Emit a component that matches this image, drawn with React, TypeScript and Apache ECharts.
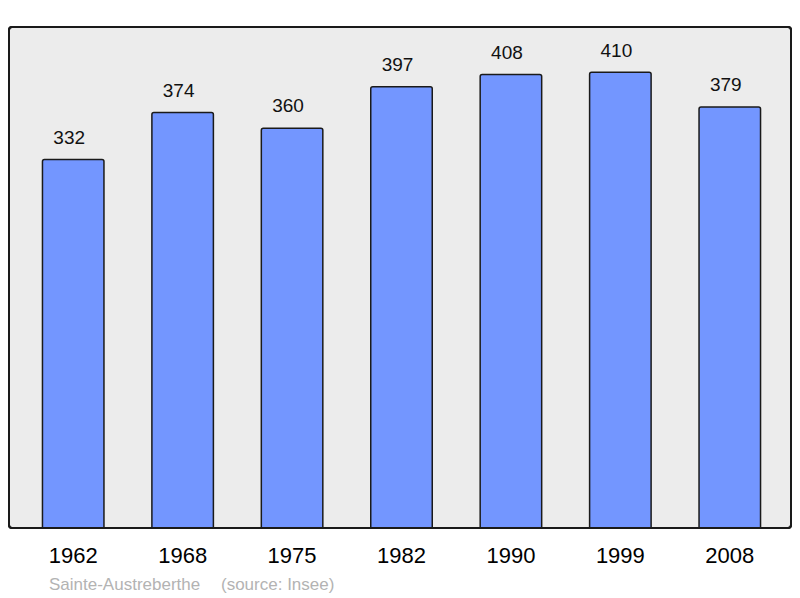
import { useEffect, useRef } from "react";
import * as echarts from "echarts";

const years = ["1962", "1968", "1975", "1982", "1990", "1999", "2008"];
const population = [332, 374, 360, 397, 408, 410, 379];
const commune = "Sainte-Austreberthe";
const source = "(source: Insee)";

const FONT = "'Liberation Sans', Arial, sans-serif";

export default function App() {
  const ref = useRef<HTMLDivElement>(null);

  useEffect(() => {
    if (!ref.current) return;
    const chart = echarts.init(ref.current, undefined, { renderer: "svg" });
    chart.setOption({
      animation: false,
      backgroundColor: "#ffffff",
      textStyle: { fontFamily: FONT },
      grid: { left: 18.5, top: 27, width: 766, height: 502 },
      xAxis: {
        type: "category",
        data: years,
        axisLine: { show: false },
        axisTick: { show: false },
        axisLabel: { color: "#000", fontSize: 22, margin: 15, fontFamily: FONT },
      },
      yAxis: {
        type: "value",
        min: 0,
        max: 450,
        show: false,
        splitLine: { show: false },
      },
      graphic: [
        {
          type: "rect",
          z: -10,
          shape: { x: 9, y: 27, width: 782, height: 501, r: 3 },
          style: { fill: "#ececec", stroke: "#1a1a1a", lineWidth: 2 },
        },
        {
          type: "rect",
          z: 100,
          silent: true,
          shape: { x: 9, y: 27, width: 782, height: 501, r: 3 },
          style: { fill: "none", stroke: "#1a1a1a", lineWidth: 2 },
        },
        {
          type: "text",
          x: 49,
          y: 584,
          style: {
            text: commune,
            fill: "#b3b3b3",
            fontSize: 17,
            fontFamily: FONT,
            verticalAlign: "middle",
          },
        },
        {
          type: "text",
          x: 221,
          y: 584,
          style: {
            text: source,
            fill: "#b3b3b3",
            fontSize: 17,
            fontFamily: FONT,
            verticalAlign: "middle",
          },
        },
      ],
      series: [
        {
          type: "bar",
          data: population,
          barWidth: 63,
          itemStyle: {
            color: "#7396ff",
            borderColor: "#1a1a1a",
            borderWidth: 1.5,
            borderRadius: [2, 2, 0, 0],
          },
          label: {
            show: true,
            position: "top",
            distance: 12,
            offset: [-4, 0],
            color: "#111",
            fontSize: 19,
            fontFamily: FONT,
          },
        },
      ],
    });
    return () => chart.dispose();
  }, []);

  return (
    <div
      ref={ref}
      style={{ position: "fixed", left: 0, top: 0, width: 800, height: 598 }}
    />
  );
}
